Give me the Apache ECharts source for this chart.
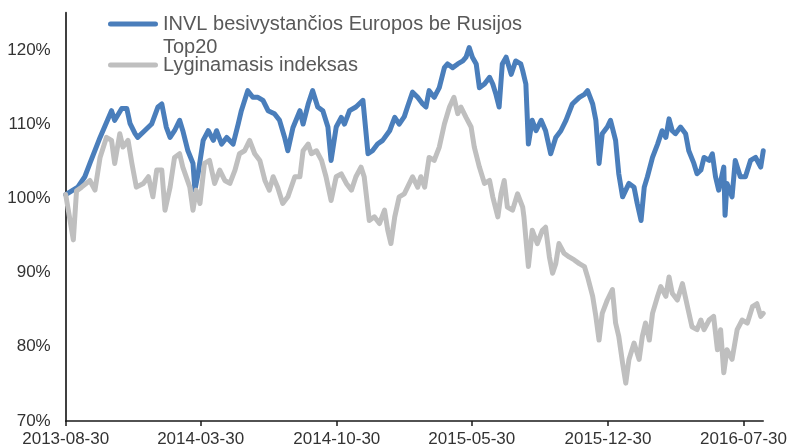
<!DOCTYPE html>
<html>
<head>
<meta charset="utf-8">
<script src="https://cdn.jsdelivr.net/npm/echarts@6/dist/echarts.min.js"></script>
<style>html,body{margin:0;padding:0;background:#fff}#c{width:790px;height:448px}</style>
</head>
<body>
<div id="c"></div>
<script>
const seriesNames = ['INVL besivystančios Europos be Rusijos Top20', 'Lyginamasis indeksas'];
const legendLabels = ['INVL besivystančios Europos be Rusijos\nTop20', 'Lyginamasis indeksas'];
const xTickLabels = ['2013-08-30', '2014-03-30', '2014-10-30', '2015-05-30', '2015-12-30', '2016-07-30'];
const yTickValues = [70, 80, 90, 100, 110, 120];

const invlDates = ['2013-08-30','2013-09-18','2013-09-29','2013-10-07','2013-10-23','2013-11-10','2013-11-15','2013-11-26','2013-12-04','2013-12-09','2013-12-17','2013-12-21','2014-01-01','2014-01-12','2014-01-22','2014-01-28','2014-02-04','2014-02-10','2014-02-17','2014-02-25','2014-03-02','2014-03-10','2014-03-18','2014-03-21','2014-03-26','2014-04-03','2014-04-11','2014-04-19','2014-04-24','2014-05-02','2014-05-10','2014-05-20','2014-05-28','2014-06-02','2014-06-12','2014-06-20','2014-06-28','2014-07-06','2014-07-14','2014-07-24','2014-08-01','2014-08-09','2014-08-14','2014-08-22','2014-09-02','2014-09-07','2014-09-15','2014-09-22','2014-09-30','2014-10-08','2014-10-16','2014-10-21','2014-10-29','2014-11-06','2014-11-11','2014-11-19','2014-11-29','2014-12-10','2014-12-18','2014-12-25','2015-01-02','2015-01-10','2015-01-21','2015-01-29','2015-02-05','2015-02-13','2015-02-18','2015-02-26','2015-03-06','2015-03-14','2015-03-19','2015-03-24','2015-04-01','2015-04-09','2015-04-17','2015-04-22','2015-04-30','2015-05-08','2015-05-16','2015-05-21','2015-05-26','2015-05-31','2015-06-06','2015-06-11','2015-06-19','2015-06-27','2015-07-02','2015-07-07','2015-07-12','2015-07-17','2015-07-23','2015-07-31','2015-08-07','2015-08-15','2015-08-18','2015-08-23','2015-08-27','2015-09-02','2015-09-08','2015-09-16','2015-09-23','2015-10-01','2015-10-09','2015-10-17','2015-10-25','2015-11-04','2015-11-15','2015-11-23','2015-11-28','2015-12-06','2015-12-11','2015-12-16','2015-12-21','2015-12-29','2016-01-03','2016-01-11','2016-01-16','2016-01-22','2016-01-27','2016-02-01','2016-02-09','2016-02-14','2016-02-20','2016-02-25','2016-03-01','2016-03-09','2016-03-17','2016-03-24','2016-03-30','2016-04-04','2016-04-09','2016-04-14','2016-04-22','2016-04-30','2016-05-05','2016-05-13','2016-05-18','2016-05-24','2016-05-29','2016-06-06','2016-06-11','2016-06-16','2016-06-21','2016-06-29','2016-07-01','2016-07-04','2016-07-12','2016-07-17','2016-07-25','2016-08-02','2016-08-10','2016-08-18','2016-08-26','2016-08-30'];
const invlValues = [100.5,101.5,102.9,104.7,108.2,111.8,110.5,112.1,112.1,110.1,108.7,108.2,109.1,110,112.3,112.7,109.6,108.2,109.1,110.5,109.1,106.4,104.7,101.1,103.3,107.8,109.1,107.8,109.1,107.3,108.2,107.3,110,111.8,114.5,113.6,113.6,113.2,111.8,111.4,110.5,108.2,106.4,109.5,111.8,110,112.7,114.5,112.3,111.8,109.6,105.1,109.6,110.9,110,111.8,112.3,113.2,106,106.4,107.3,107.8,109.1,110.9,110,111,112.3,114.3,113.6,112.7,112.3,114.5,113.6,114.9,117.6,118.1,117.6,118.1,118.5,119,120.3,119,118.1,114.9,115.4,116.3,115.4,114,112.3,118.1,119,116.7,118.5,118.1,117.2,115.4,107.3,110.5,109.1,110.5,109.1,106,108.2,109.1,110.5,112.7,113.6,114,114.5,112.7,110.5,104.7,108.7,109.6,110.5,107.8,103.3,100.2,101.1,102,101.5,99.3,97,101.5,102.9,105.5,107.3,109.1,108.2,110.7,109.1,108.7,109.6,108.7,106.4,104.7,103.3,103.8,105.5,105.1,106,102.9,101.1,104.2,97.7,102,100.2,105.1,102.9,102.9,105.1,105.5,104.2,106.4];

const benchDates = ['2013-08-30','2013-09-11','2013-09-16','2013-09-24','2013-10-07','2013-10-15','2013-10-23','2013-11-02','2013-11-10','2013-11-15','2013-11-23','2013-11-28','2013-12-06','2013-12-12','2013-12-19','2013-12-30','2014-01-07','2014-01-14','2014-01-20','2014-01-28','2014-02-02','2014-02-10','2014-02-17','2014-02-25','2014-03-02','2014-03-13','2014-03-18','2014-03-23','2014-03-29','2014-04-05','2014-04-13','2014-04-21','2014-04-29','2014-05-07','2014-05-15','2014-05-23','2014-05-30','2014-06-07','2014-06-15','2014-06-23','2014-07-01','2014-07-09','2014-07-16','2014-07-22','2014-07-29','2014-08-06','2014-08-14','2014-08-25','2014-09-02','2014-09-07','2014-09-15','2014-09-20','2014-09-28','2014-10-06','2014-10-13','2014-10-21','2014-10-29','2014-11-06','2014-11-14','2014-11-22','2014-11-29','2014-12-07','2014-12-12','2014-12-20','2014-12-28','2015-01-05','2015-01-13','2015-01-18','2015-01-23','2015-01-29','2015-02-05','2015-02-13','2015-02-21','2015-02-26','2015-03-06','2015-03-11','2015-03-17','2015-03-24','2015-04-01','2015-04-09','2015-04-17','2015-04-25','2015-05-02','2015-05-08','2015-05-13','2015-05-21','2015-05-29','2015-06-03','2015-06-11','2015-06-19','2015-06-27','2015-07-02','2015-07-10','2015-07-15','2015-07-20','2015-07-25','2015-08-02','2015-08-10','2015-08-18','2015-08-20','2015-08-27','2015-09-02','2015-09-10','2015-09-18','2015-09-23','2015-09-29','2015-10-04','2015-10-09','2015-10-14','2015-10-22','2015-10-30','2015-11-07','2015-11-15','2015-11-23','2015-11-28','2015-12-06','2015-12-11','2015-12-16','2015-12-21','2015-12-29','2016-01-06','2016-01-11','2016-01-16','2016-01-22','2016-01-27','2016-02-01','2016-02-09','2016-02-17','2016-02-22','2016-02-27','2016-03-04','2016-03-09','2016-03-17','2016-03-22','2016-03-30','2016-04-04','2016-04-09','2016-04-17','2016-04-25','2016-05-03','2016-05-10','2016-05-18','2016-05-24','2016-05-29','2016-06-06','2016-06-13','2016-06-19','2016-06-24','2016-06-29','2016-07-04','2016-07-12','2016-07-20','2016-07-28','2016-08-05','2016-08-13','2016-08-20','2016-08-26','2016-08-30'];
const benchValues = [100.5,94.4,101,101.5,102.4,101.1,105.5,108.2,107.8,104.7,108.7,106.9,107.8,104.7,101.5,102,102.9,100.2,103.8,103.8,98.4,101.5,105.5,106,104.2,101.5,98.4,101.1,99.3,104.7,105.1,102,103.8,102.4,102,103.8,106,106.4,107.8,106,105.1,102.4,101.1,102.9,101.5,99.3,100.2,102.9,102.9,106.4,107.3,106,106.4,105.1,102.9,99.7,102.9,103.3,102,101.1,102.9,104.2,102.9,97,97.5,96.6,98.4,95.7,93.9,97.5,100.2,100.6,102,102.9,101.5,102.9,101.5,105.5,105.1,106.9,110,112.3,113.6,111.4,112.3,110.9,109.6,106.9,104.2,102,102.4,100.2,97.5,100.6,102.4,98.8,98.4,100.6,98.8,97.5,90.8,95.7,93.9,95.7,96.1,92.1,89.9,91.2,93.9,92.6,92.1,91.7,91.2,90.8,89.4,86.8,84.1,80.9,84.5,86.3,87.7,83.2,81.4,77.8,75.1,78.3,80.5,78.3,81.4,83.2,80.9,84.5,86.8,88.1,86.8,89.4,87.2,86.3,88.5,85.4,82.7,82.3,83.6,82.3,83.6,84.1,79.6,82.3,76.5,79.6,78.3,82.3,83.6,83.2,85.4,85.8,84.1,84.5];

// dates -> UTC timestamps (a plain value axis is used so ticks sit exactly on the labelled dates)
const toTime = s => Date.UTC(+s.slice(0, 4), +s.slice(5, 7) - 1, +s.slice(8, 10));
const pad = n => (n < 10 ? '0' : '') + n;
const fmtDate = t => { const d = new Date(t); return d.getUTCFullYear() + '-' + pad(d.getUTCMonth() + 1) + '-' + pad(d.getUTCDate()); };
const pair = (ds, vs) => ds.map((d, i) => [toTime(d), vs[i]]);
const xTicks = xTickLabels.map(toTime);
const FONT = '"Liberation Sans", Arial, sans-serif';

// legend icons: a round-capped stroke; the two-line entry's icon box spans both text lines
// (tiny corner dots fix the box) so the stroke sits level with the first line
const iconTwoLine = 'path://M0,0h0.01v0.01h-0.01z M2.5,9h45a2.5,2.5 0 0 1 0,5h-45a2.5,2.5 0 0 1 0,-5z M49.99,45.99h0.01v0.01h-0.01z';
const iconOneLine = 'path://M2.5,0h45a2.5,2.5 0 0 1 0,5h-45a2.5,2.5 0 0 1 0,-5z';

const chart = echarts.init(document.getElementById('c'), null, {renderer: 'canvas'});
chart.setOption({
  animation: false,
  backgroundColor: '#ffffff',
  grid: {left: 65.7, right: 25, top: 12.7, bottom: 26.5, containLabel: false},
  legend: [
    {
      data: [{name: seriesNames[0], icon: iconTwoLine}],
      left: 108, top: 12.5, padding: 0,
      itemWidth: 50, itemHeight: 46,
      formatter: () => legendLabels[0],
      textStyle: {fontSize: 20, fontFamily: FONT, color: '#595959', lineHeight: 23}
    },
    {
      data: [{name: seriesNames[1], icon: iconOneLine}],
      left: 108, top: 53.5, padding: 0,
      itemWidth: 50, itemHeight: 5,
      formatter: () => legendLabels[1],
      textStyle: {fontSize: 20, fontFamily: FONT, color: '#595959', lineHeight: 23}
    }
  ],
  xAxis: {
    type: 'value',
    min: toTime('2013-08-30'),
    max: toTime('2016-08-30'),
    splitLine: {show: false},
    axisLine: {show: true, onZero: false, lineStyle: {color: '#1a1a1a', width: 1.5}},
    axisTick: {show: true, customValues: xTicks, length: 5, inside: false, lineStyle: {color: '#1a1a1a', width: 1.5}},
    axisLabel: {
      customValues: xTicks,
      margin: 10,
      fontSize: 17, fontFamily: FONT, color: '#333333',
      formatter: v => fmtDate(v)
    }
  },
  yAxis: {
    type: 'value',
    min: 70, max: 125,
    splitLine: {show: false},
    axisLine: {show: true, onZero: false, lineStyle: {color: '#404040', width: 2}},
    axisTick: {show: false},
    axisLabel: {
      customValues: yTickValues,
      margin: 15,
      fontSize: 17, fontFamily: FONT, color: '#333333',
      formatter: '{value}%'
    }
  },
  series: [
    {
      name: seriesNames[0], type: 'line', showSymbol: false, symbol: 'none',
      data: pair(invlDates, invlValues),
      lineStyle: {color: '#4A7EBB', width: 5, cap: 'round', join: 'round'},
      itemStyle: {color: '#4A7EBB'}
    },
    {
      name: seriesNames[1], type: 'line', showSymbol: false, symbol: 'none',
      data: pair(benchDates, benchValues),
      lineStyle: {color: '#BFBFBF', width: 5, cap: 'round', join: 'round'},
      itemStyle: {color: '#BFBFBF'}
    }
  ]
});
</script>
</body>
</html>
